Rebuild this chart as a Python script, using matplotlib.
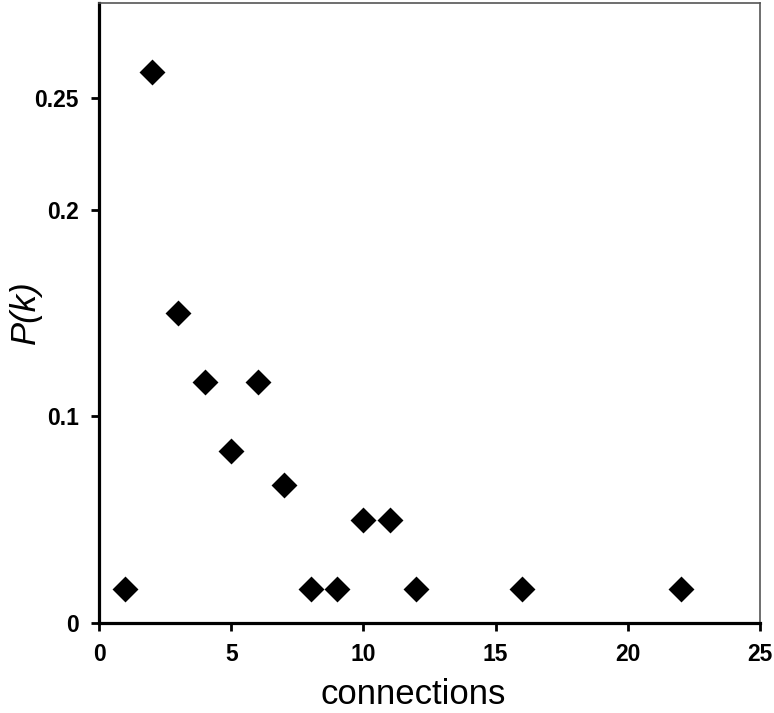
import matplotlib
matplotlib.use("Agg")
import matplotlib.pyplot as plt

connections = [1, 2, 3, 4, 5, 6, 7, 8, 9, 10, 11, 12, 16, 22]
counts = [1, 16, 9, 7, 5, 7, 4, 1, 1, 3, 3, 1, 1, 1]
total = sum(counts)
pk = [c / total for c in counts]

xticks = [0, 5, 10, 15, 20, 25]
yticks = [0, 0.1, 0.2, 0.254]
yticklabels = ["0", "0.1", "0.2", "0.25"]

plt.rcParams['font.family'] = ['Liberation Sans', 'DejaVu Sans']

W, H = 774, 713
fig = plt.figure(figsize=(W / 100, H / 100), dpi=100)
ax_left, ax_right, ax_top, ax_bottom = 99, 760, 3, 623
ax = fig.add_axes([ax_left / W, 1 - ax_bottom / H,
                   (ax_right - ax_left) / W, (ax_bottom - ax_top) / H])

ax.scatter(connections, pk, marker='D', s=13.2 ** 2, color='black', zorder=3, linewidths=0)

ax.set_xlim(0, 25)
ax.set_ylim(0, 0.3)
ax.set_xticks(xticks)
ax.set_xticklabels([str(t) for t in xticks])
ax.set_yticks(yticks)
ax.set_yticklabels(yticklabels)

for side in ['left', 'bottom']:
    ax.spines[side].set_linewidth(2.3)
for side in ['top', 'right']:
    ax.spines[side].set_linewidth(1.2)
    ax.spines[side].set_color('#555555')

ax.tick_params(axis='both', direction='out', length=5.5, width=2.0, labelsize=16.5, pad=9)
for lab in ax.get_xticklabels() + ax.get_yticklabels():
    lab.set_fontweight('bold')

ax_w = ax_right - ax_left
ax_h = ax_bottom - ax_top
xl = ax.set_xlabel('connections', fontsize=25)
xl.set_va('baseline')
ax.xaxis.set_label_coords((413 - ax_left) / ax_w, -(704 - ax_bottom) / ax_h)

yl = ax.set_ylabel('P(k)', fontsize=25, style='italic')
ax.yaxis.set_label_coords((42 - ax_left) / ax_w, (ax_bottom - 312) / ax_h)

fig.savefig('out.png', dpi=100, facecolor='white')
